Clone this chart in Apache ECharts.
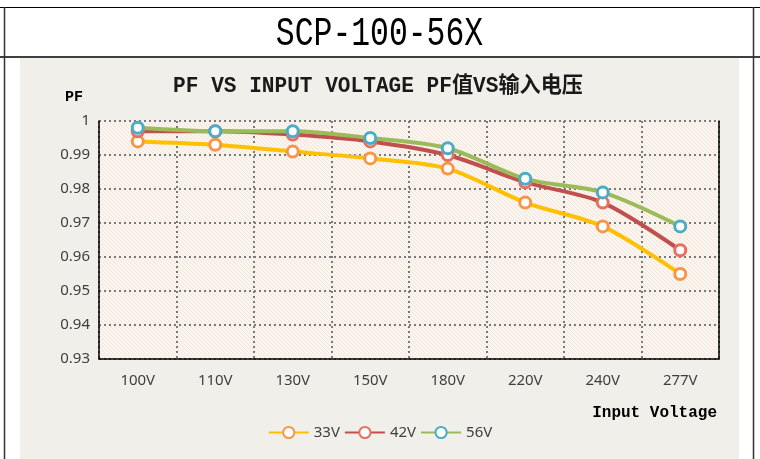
<!DOCTYPE html>
<html>
<head>
<meta charset="utf-8">
<script src="https://cdn.jsdelivr.net/npm/echarts@6/dist/echarts.min.js"></script>
<style>
html,body{margin:0;padding:0;background:#fff;}
#c{width:760px;height:459px;}
</style>
</head>
<body>
<div id="c"></div>
<script>
var categories = ['100V','110V','130V','150V','180V','220V','240V','277V'];
var pf33 = [0.994, 0.993, 0.991, 0.989, 0.986, 0.976, 0.969, 0.955];
var pf42 = [0.997, 0.997, 0.996, 0.994, 0.990, 0.982, 0.976, 0.962];
var pf56 = [0.998, 0.997, 0.997, 0.995, 0.992, 0.983, 0.979, 0.969];
var seriesNames = ['33V','42V','56V'];
var yTicks = {min: 0.93, max: 1, interval: 0.01};

// hatch pattern for plot background
var pc = document.createElement('canvas');
pc.width = 4; pc.height = 4;
var g = pc.getContext('2d');
g.fillStyle = '#FBF5EF';
g.fillRect(0,0,4,4);
g.strokeStyle = '#F3E5D9';
g.lineWidth = 1;
g.beginPath();
g.moveTo(-1,-1); g.lineTo(5,5);
g.moveTo(-1,3); g.lineTo(1,5);
g.moveTo(3,-1); g.lineTo(5,1);
g.stroke();

var chart = echarts.init(document.getElementById('c'), null, {renderer:'canvas'});
var mono = '"Liberation Mono", "Noto Sans CJK SC", monospace';
var sans = '"Liberation Sans Narrow", "Noto Sans", sans-serif';

function mk(name, data, lineColor, markColor){
  return {
    name: name, type: 'line', data: data, smooth: 0.3,
    symbol: 'circle', symbolSize: 11,
    lineStyle: {color: lineColor, width: 4},
    itemStyle: {color: '#ffffff', borderColor: markColor, borderWidth: 3},
    emphasis: {disabled: true}
  };
}

chart.setOption({
  backgroundColor: '#ffffff',
  animation: false,
  graphic: [
    {type:'rect', z:-10, shape:{x:20,y:58,width:719,height:401}, style:{fill:'#F0EFEA'}},
    {type:'line', z:5, shape:{x1:0,y1:7.5,x2:760,y2:7.5}, style:{stroke:'#000',lineWidth:1}},
    {type:'line', z:5, shape:{x1:0,y1:57,x2:760,y2:57}, style:{stroke:'#000',lineWidth:1.5}},
    {type:'line', z:5, shape:{x1:4.5,y1:7,x2:4.5,y2:459}, style:{stroke:'#333',lineWidth:1.5}},
    {type:'line', z:5, shape:{x1:753.5,y1:7,x2:753.5,y2:459}, style:{stroke:'#333',lineWidth:1.5}},
    {type:'text', z:5, x:379.5, y:34, scaleX:0.785,
      style:{text:'SCP-100-56X', font:'40px ' + mono, fill:'#000', textAlign:'center', textVerticalAlign:'middle'}},
    {type:'text', z:5, x:378, y:86, scaleX:0.96,
      style:{text:'PF VS INPUT VOLTAGE PF值VS输入电压', font:'bold 22px ' + mono, fill:'#1a1a1a', textAlign:'center', textVerticalAlign:'middle'}},
    {type:'text', z:5, x:74, y:97,
      style:{text:'PF', font:'bold 15px ' + mono, fill:'#000', textAlign:'center', textVerticalAlign:'middle'}},
    {type:'text', z:5, x:717, y:413,
      style:{text:'Input Voltage', font:'bold 16px ' + mono, fill:'#000', textAlign:'right', textVerticalAlign:'middle'}}
  ],
  grid: {
    left: 99, top: 121, right: 41, bottom: 100, show: true,
    backgroundColor: {image: pc, repeat: 'repeat'}, borderWidth: 0
  },
  legend: {
    data: seriesNames, bottom: 14, left: 'center',
    itemWidth: 40, itemHeight: 14, itemGap: 4,
    textStyle: {fontFamily: sans, fontSize: 15, color: '#404040'}
  },
  xAxis: {
    type: 'category', data: categories, boundaryGap: true,
    axisLine: {lineStyle: {color: '#000', width: 1.5}},
    axisTick: {show: false},
    axisLabel: {fontFamily: sans, fontSize: 15, color: '#404040', margin: 14},
    splitLine: {show: true, lineStyle: {color: '#7a7a7a', width: 2, type: [2,3]}}
  },
  yAxis: [{
    type: 'value', min: yTicks.min, max: yTicks.max, interval: yTicks.interval,
    axisLine: {show: true, lineStyle: {color: '#000', width: 1.5}},
    axisTick: {show: false},
    axisLabel: {fontFamily: sans, fontSize: 15, color: '#404040', margin: 9,
      formatter: function(v){ return String(Math.round(v*1000)/1000); }},
    splitLine: {show: true, lineStyle: {color: '#7a7a7a', width: 2, type: [2,3]}}
  },{
    type: 'value', min: yTicks.min, max: yTicks.max, interval: yTicks.interval, position: 'right',
    axisLine: {show: true, lineStyle: {color: '#000', width: 1.5}},
    axisTick: {show: false}, axisLabel: {show: false}, splitLine: {show: false}
  }],
  series: [
    mk('33V', pf33, '#FFC000', '#F79646'),
    mk('42V', pf42, '#C0504D', '#E8705F'),
    mk('56V', pf56, '#9BBB59', '#4BACC6')
  ]
});
</script>
</body>
</html>
